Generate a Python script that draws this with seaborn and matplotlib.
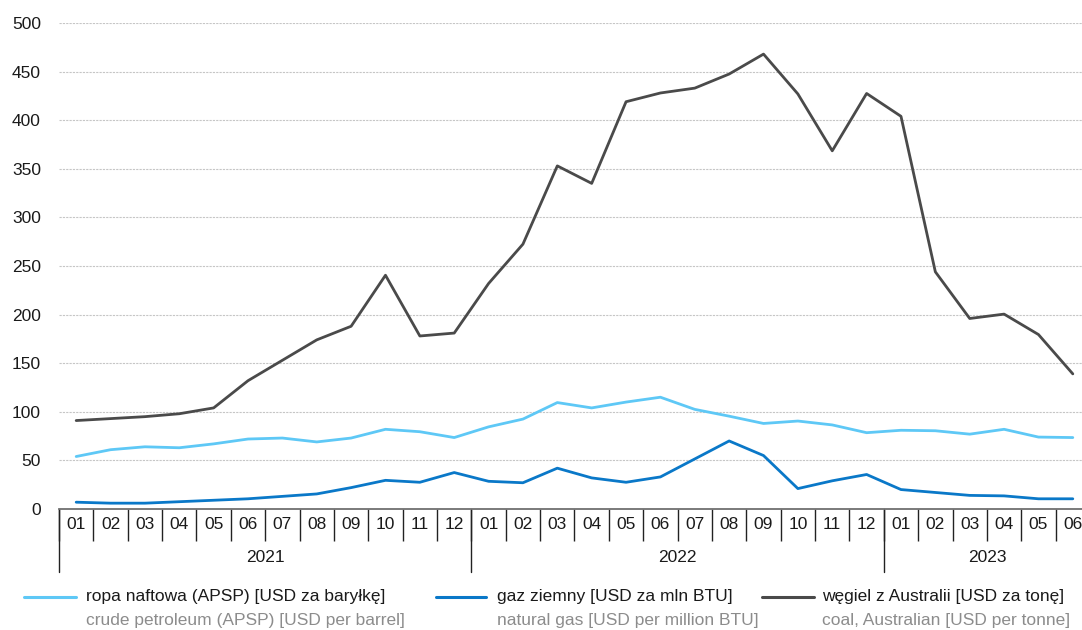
import numpy as np
import pandas as pd
import matplotlib
matplotlib.use("Agg")
import matplotlib.pyplot as plt
from matplotlib.lines import Line2D
import seaborn as sns

# --- data ---------------------------------------------------------------
months = ["01", "02", "03", "04", "05", "06", "07", "08", "09", "10", "11", "12",
          "01", "02", "03", "04", "05", "06", "07", "08", "09", "10", "11", "12",
          "01", "02", "03", "04", "05", "06"]
years = [2021] * 12 + [2022] * 12 + [2023] * 6

crude = [54, 61, 64, 63, 67, 72, 73, 69, 73, 82, 79.5, 73.5,
         84.5, 92.5, 109.5, 104, 110, 115, 102.5, 95.5, 88, 90.5, 86.5, 78.5,
         81, 80.5, 77, 82, 74, 73.5]
gas = [7, 6, 6, 7.5, 9, 10.5, 13, 15.5, 22, 29.5, 27.5, 37.5,
       28.5, 27, 42, 32, 27.5, 33, 51.5, 70, 55, 21, 29, 35.5,
       20, 17, 14, 13.5, 10.5, 10.5]
coal = [91, 93, 95, 98, 104, 132, 153, 174, 188, 240.5, 178, 181,
        232, 272.5, 353, 335, 419, 428, 433, 447.5, 468, 427, 368.5, 427.5,
        404, 244, 196, 200.5, 179.5, 139]

series_pl = ["ropa naftowa (APSP) [USD za baryłkę]",
             "gaz ziemny [USD za mln BTU]",
             "węgiel z Australii [USD za tonę]"]
series_en = ["crude petroleum (APSP) [USD per barrel]",
             "natural gas [USD per million BTU]",
             "coal, Australian [USD per tonne]"]
colors = ["#5ec8f6", "#0a78c8", "#4a4a4a"]

yticks = list(range(0, 501, 50))

# --- styling ------------------------------------------------------------
sns.set_theme(style="white")
plt.rcParams["font.family"] = ["Liberation Sans Narrow", "Liberation Sans", "DejaVu Sans"]

W, H = 1082, 630
fig = plt.figure(figsize=(W / 100, H / 100), dpi=100)
fig.patch.set_facecolor("white")

# axes spans month cells from x=59px to x=1090px (last cell runs past the edge)
left, right, top, bottom = 59, 1090, 23, 509
ax = fig.add_axes([left / W, 1 - bottom / H, (right - left) / W, (bottom - top) / H])

idx = np.arange(len(months))
df = pd.concat([
    pd.DataFrame({"idx": idx, "value": vals, "series": name})
    for name, vals in zip(series_pl, [crude, gas, coal])
])
sns.lineplot(data=df, x="idx", y="value", hue="series", hue_order=series_pl,
             palette=colors, linewidth=2.0, legend=False, ax=ax, clip_on=False)

ax.set_xlim(-0.5, len(months) - 0.5)
ax.set_ylim(0, 500)
ax.set_xlabel("")
ax.set_ylabel("")

# y axis
ax.set_yticks(yticks)
ax.set_yticklabels([str(v) for v in yticks], fontsize=12.5, color="#1a1a1a")
ax.tick_params(axis="y", length=0, pad=13)
ax.yaxis.grid(True, color="#c6c6c6", linestyle=(0, (2, 1)), linewidth=0.8)
ax.xaxis.grid(False)
for s in ["left", "right", "top"]:
    ax.spines[s].set_visible(False)
ax.spines["bottom"].set_color("#707070")
ax.spines["bottom"].set_linewidth(1.3)

# x axis: month labels with separators
ax.set_xticks(idx)
ax.set_xticklabels(months, fontsize=12.5, color="#1a1a1a")
ax.set_xticks(np.arange(-0.5, len(months), 1.0), minor=True)
ax.tick_params(axis="x", which="major", length=0, pad=6)
ax.tick_params(axis="x", which="minor", length=23, width=1.0, color="#222222",
               direction="out", bottom=True)

# year separators and labels
ax_h = bottom - top
trans = ax.get_xaxis_transform()
yr_arr = np.array(years)
for yr in sorted(set(years)):
    pos = np.where(yr_arr == yr)[0]
    start = pos[0] - 0.5
    ax.plot([start, start], [0, -63 / ax_h], transform=trans, color="#222222",
            linewidth=1.0, clip_on=False)
    ax.text((pos[0] + pos[-1]) / 2, -49 / ax_h, str(yr), transform=trans,
            ha="center", va="center", fontsize=12.5, color="#1a1a1a")

# legend
leg_x = [(24, 76, 86), (436, 486, 497), (762, 814, 822)]
for (x0, x1, xt), c, t1, t2 in zip(leg_x, colors, series_pl, series_en):
    y1 = 1 - 597 / H
    fig.add_artist(Line2D([x0 / W, x1 / W], [y1, y1], transform=fig.transFigure,
                          color=c, linewidth=2.2))
    fig.text(xt / W, y1, t1, ha="left", va="center", fontsize=12.5, color="#1a1a1a")
    fig.text(xt / W, 1 - 620 / H, t2, ha="left", va="center", fontsize=12.5,
             color="#8c8c8c")

fig.savefig("out.png", dpi=100, facecolor="white")
